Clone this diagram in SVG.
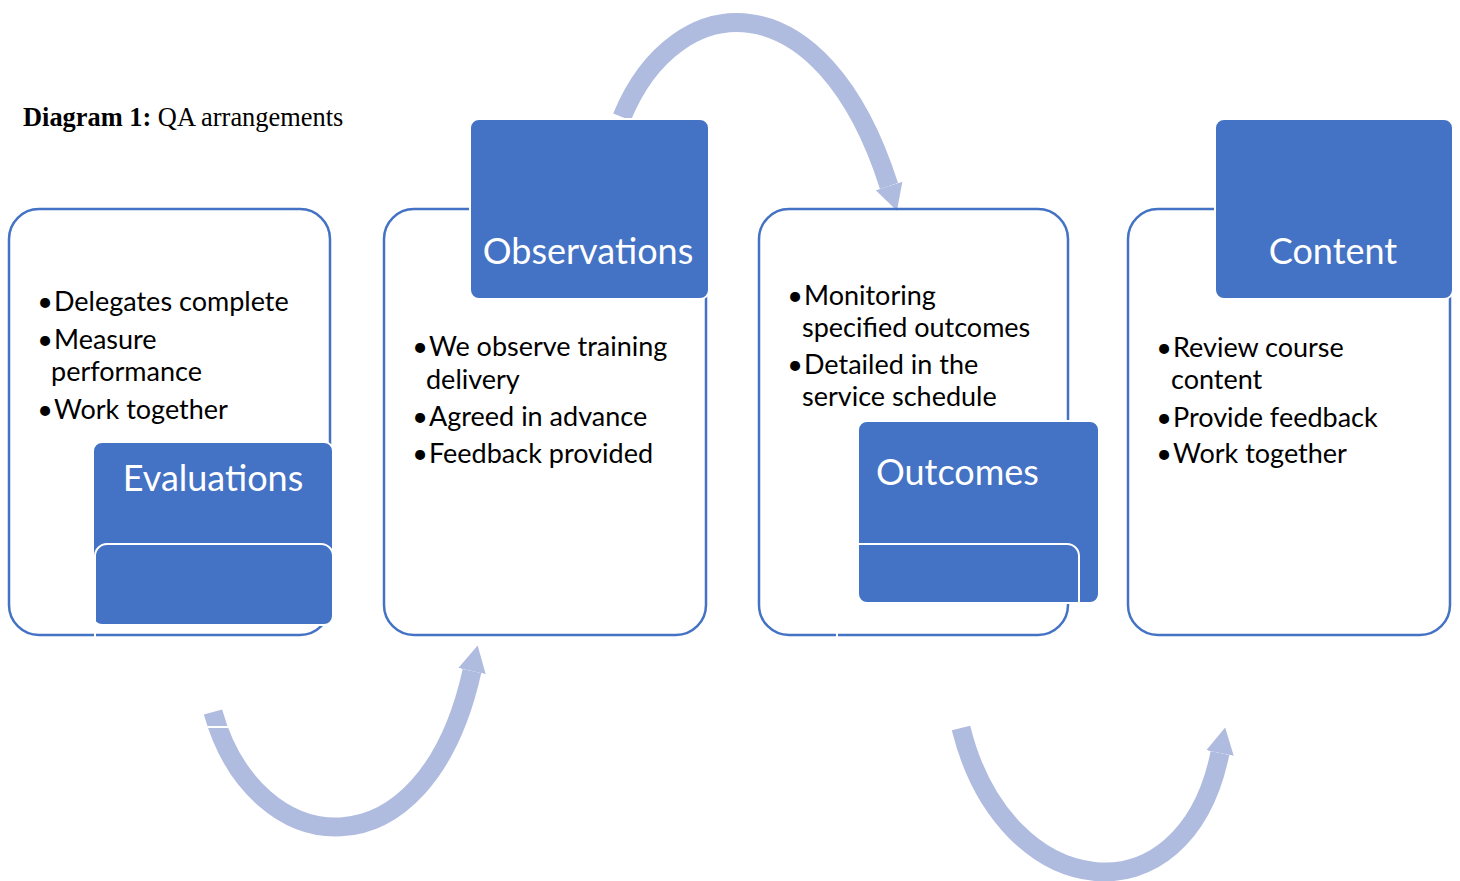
<svg xmlns="http://www.w3.org/2000/svg" width="1460" height="881" viewBox="0 0 1460 881">
  <defs>
    <style>
      .frame { fill: none; stroke: #4472C4; stroke-width: 2.5; }
      .tab { fill: #4472C4; stroke: #FFFFFF; stroke-width: 2; }
      .seam { fill: none; stroke: #FFFFFF; stroke-width: 2; }
      .body { font-family: Lato, "Open Sans", sans-serif; font-size: 27px; fill: #000000; }
      .label { font-family: Lato, "Open Sans", sans-serif; font-size: 36px; fill: #FFFFFF; }
      .title { font-family: "Liberation Serif", "Times New Roman", serif; font-size: 26.4px; fill: #000000; }
      .flow { fill: none; stroke: #B0BCDF; stroke-width: 19; marker-end: url(#head); }
    </style>
    <marker id="head" markerUnits="userSpaceOnUse" viewBox="0 0 28 28" markerWidth="28" markerHeight="28" refX="0" refY="14" orient="auto">
      <path d="M0,0 L26,14 L0,28 Z" fill="#B0BCDF"/>
    </marker>
  </defs>

  <rect width="1460" height="881" fill="#FFFFFF"/>

  <text class="title" x="23" y="126"><tspan font-weight="bold">Diagram 1:</tspan> QA arrangements</text>

  <!-- curved flow arrows between the stages -->
  <g id="connectors">
    <path class="flow" d="M622,117 C676,-14 822,-24 889,186"/>
    <path class="flow" d="M213,712 C255,862 425,882 472,671"/>
    <path d="M206,727 H228" stroke="#FFFFFF" stroke-width="2"/>
    <path class="flow" d="M961,728 C1005,905 1185,925 1220,753"/>
  </g>

  <!-- stage 1: evaluations -->
  <g id="evaluations">
    <rect class="frame" x="9" y="209" width="321" height="426" rx="30"/>
    <rect class="tab" x="93" y="442" width="240" height="183" rx="9"/>
    <path class="seam" d="M95,638 V556 A12,12 0 0 1 107,544 H321 A12,12 0 0 1 333,556"/>
    <text class="label" x="213" y="491" text-anchor="middle">Evaluations</text>
    <text class="body" x="45" y="311" text-anchor="middle">•</text>
    <text class="body" x="54" y="311">Delegates complete</text>
    <text class="body" x="45" y="349" text-anchor="middle">•</text>
    <text class="body" x="54" y="349">Measure</text>
    <text class="body" x="51" y="381">performance</text>
    <text class="body" x="45" y="419" text-anchor="middle">•</text>
    <text class="body" x="54" y="419">Work together</text>
  </g>

  <!-- stage 2: observations -->
  <g id="observations">
    <rect class="frame" x="384" y="209" width="322" height="426" rx="30"/>
    <rect class="tab" x="470" y="119" width="239" height="180" rx="9"/>
    <text class="label" x="588" y="264" text-anchor="middle">Observations</text>
    <text class="body" x="420" y="356" text-anchor="middle">•</text>
    <text class="body" x="429" y="356">We observe training</text>
    <text class="body" x="426" y="389">delivery</text>
    <text class="body" x="420" y="426" text-anchor="middle">•</text>
    <text class="body" x="429" y="426">Agreed in advance</text>
    <text class="body" x="420" y="463" text-anchor="middle">•</text>
    <text class="body" x="429" y="463">Feedback provided</text>
  </g>

  <!-- stage 3: outcomes -->
  <g id="outcomes">
    <rect class="frame" x="759" y="209" width="309" height="426" rx="30"/>
    <rect class="tab" x="858" y="421" width="241" height="182" rx="9"/>
    <path class="seam" d="M858,544 H1067 A12,12 0 0 1 1079,556 V603"/>
    <path class="seam" d="M837,628 V640"/>
    <text class="label" x="876" y="485">Outcomes</text>
    <text class="body" x="795" y="305" text-anchor="middle">•</text>
    <text class="body" x="804" y="305">Monitoring</text>
    <text class="body" x="802" y="337">specified outcomes</text>
    <text class="body" x="795" y="374" text-anchor="middle">•</text>
    <text class="body" x="804" y="374">Detailed in the</text>
    <text class="body" x="802" y="406">service schedule</text>
  </g>

  <!-- stage 4: content -->
  <g id="content">
    <rect class="frame" x="1128" y="209" width="322" height="426" rx="30"/>
    <rect class="tab" x="1215" y="119" width="238" height="180" rx="9"/>
    <text class="label" x="1333" y="264" text-anchor="middle">Content</text>
    <text class="body" x="1164" y="357" text-anchor="middle">•</text>
    <text class="body" x="1173" y="357">Review course</text>
    <text class="body" x="1171" y="389">content</text>
    <text class="body" x="1164" y="427" text-anchor="middle">•</text>
    <text class="body" x="1173" y="427">Provide feedback</text>
    <text class="body" x="1164" y="463" text-anchor="middle">•</text>
    <text class="body" x="1173" y="463">Work together</text>
  </g>
</svg>
